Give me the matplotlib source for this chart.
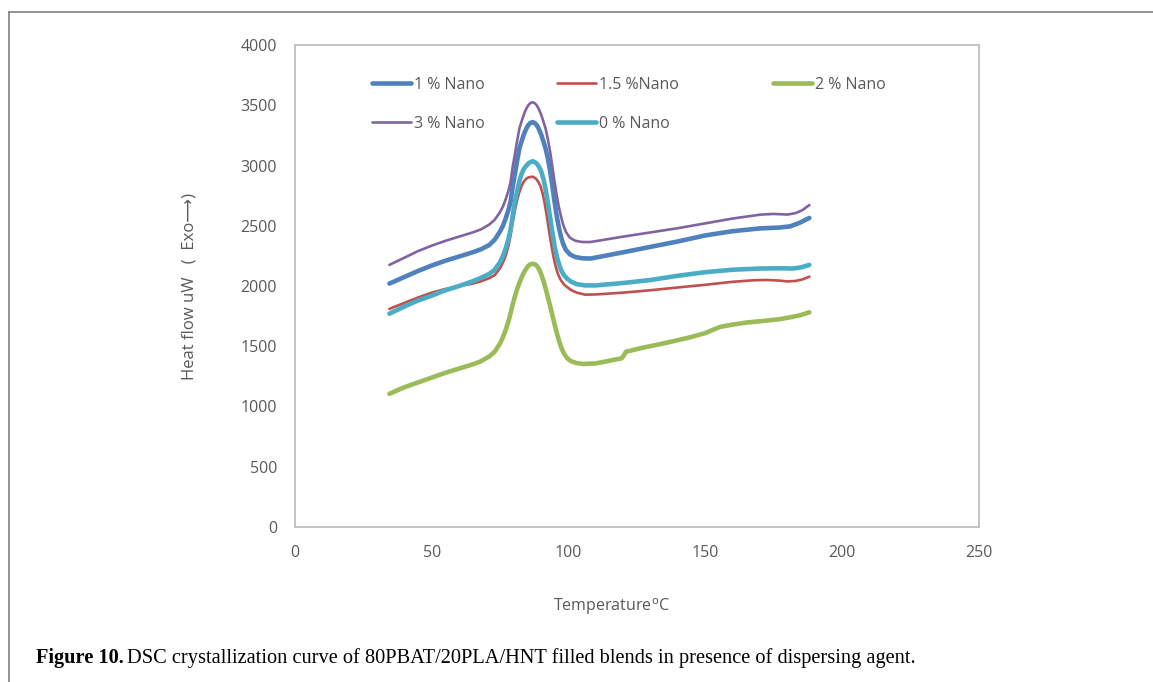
import matplotlib
matplotlib.use("Agg")
import matplotlib.pyplot as plt
from matplotlib.lines import Line2D
from matplotlib.legend import Legend

# ---- DSC crystallization data (temperature in °C, heat flow in uW) ----
t_1pct = [34.5, 40, 45, 50, 55, 60, 65, 68, 71, 73, 75, 76, 77, 78, 78.8, 79.6, 80.4,
          81.2, 82.0, 82.8, 83.6, 84.4, 85.2, 86.0, 86.8, 87.6, 88.4, 89.2, 90.0, 90.8,
          91.6, 92.4, 93.2, 94.0, 94.8, 95.6, 96.4, 97.2, 98.0, 99.0, 100.5, 102.5, 105,
          108, 112, 120, 130, 140, 150, 160, 170, 177, 181, 184.5, 188]
hf_1pct = [2020, 2075, 2125, 2170, 2210, 2245, 2280, 2305, 2340, 2385, 2455, 2500, 2560,
           2630, 2700, 2830, 2930, 3040, 3140, 3200, 3255, 3300, 3333, 3353, 3360, 3353,
           3333, 3300, 3255, 3200, 3140, 3060, 2960, 2840, 2710, 2590, 2490, 2410, 2350,
           2300, 2262, 2240, 2230, 2228, 2245, 2280, 2325, 2370, 2420, 2455, 2478, 2485,
           2495, 2525, 2565]

t_15pct = [34.5, 40, 45, 50, 55, 60, 65, 67.6, 71, 73, 75, 76, 77, 78, 78.8, 79.6, 80.4,
           81.2, 82.0, 82.8, 83.6, 84.4, 85.2, 86.5, 87.3, 88.1, 88.9, 89.7, 90.5, 91.3,
           92.1, 92.9, 93.7, 94.5, 95.3, 96.1, 97.0, 98.2, 99.5, 101, 103, 106, 110, 120,
           130, 140, 150, 160, 168, 172.7, 177, 180, 183, 185.5, 188]
hf_15pct = [1810, 1860, 1905, 1945, 1975, 2000, 2020, 2036, 2065, 2090, 2150, 2195, 2250,
            2330, 2420, 2530, 2630, 2715, 2780, 2830, 2865, 2888, 2900, 2907, 2903, 2890,
            2865, 2830, 2770, 2680, 2570, 2450, 2340, 2240, 2160, 2100, 2055, 2015, 1990,
            1965, 1945, 1928, 1930, 1945, 1965, 1988, 2010, 2035, 2048, 2050, 2045, 2038,
            2042, 2055, 2077]

t_2pct = [34.5, 40, 45, 50, 55, 60, 65, 67.6, 71, 73, 75, 76, 77, 78, 78.8, 79.6, 80.4,
          81.2, 82.0, 82.8, 83.6, 84.4, 85.2, 86.0, 86.9, 87.7, 88.5, 89.3, 90.1, 90.9,
          91.7, 92.5, 93.3, 94.1, 94.9, 95.7, 96.5, 97.3, 98.3, 99.5, 101, 103, 105.4,
          110, 115, 119.4, 120.2, 121, 123, 126.1, 135, 144.4, 150, 155.3, 160, 165.1,
          172, 177.3, 182.1, 185, 188]
hf_2pct = [1105, 1160, 1200, 1240, 1280, 1315, 1350, 1372, 1415, 1455, 1525, 1575, 1635,
           1705, 1775, 1850, 1915, 1975, 2025, 2070, 2110, 2140, 2165, 2180, 2185, 2180,
           2165, 2135, 2090, 2035, 1970, 1900, 1830, 1755, 1680, 1610, 1545, 1490, 1440,
           1400, 1375, 1360, 1353, 1358, 1380, 1400, 1425, 1455, 1465, 1483, 1525, 1574,
           1610, 1660, 1680, 1697, 1712, 1725, 1745, 1760, 1782]

t_3pct = [34.5, 40, 45, 50, 55, 60, 65, 68, 71, 73, 75, 76, 77, 78, 78.8, 79.6, 80.4,
          81.2, 82.0, 82.8, 83.6, 84.4, 85.2, 86.0, 86.8, 87.6, 88.4, 89.2, 90.0, 90.8,
          91.6, 92.4, 93.2, 94.0, 94.8, 95.6, 96.4, 97.2, 98.0, 99.0, 100.5, 102.5, 105,
          108, 112, 120, 130, 140, 150, 160, 170, 175, 180, 183, 185.5, 188]
hf_3pct = [2175, 2235, 2290, 2335, 2375, 2410, 2445, 2470, 2510, 2550, 2615, 2660, 2720,
           2790, 2865, 2995, 3095, 3205, 3305, 3365, 3420, 3465, 3498, 3518, 3525, 3518,
           3498, 3465, 3420, 3365, 3305, 3220, 3120, 3000, 2875, 2760, 2660, 2580, 2510,
           2450, 2400, 2375, 2365, 2365, 2380, 2410, 2445, 2480, 2520, 2560, 2592, 2598,
           2593, 2605, 2630, 2672]

t_0pct = [34.5, 40, 45, 50, 55, 60, 65, 67.6, 71, 73, 75, 76, 77, 78, 78.8, 79.6, 80.4,
          81.2, 82.0, 82.8, 83.6, 84.4, 85.2, 86.0, 86.9, 87.7, 88.5, 89.3, 90.1, 90.9,
          91.7, 92.5, 93.3, 94.1, 94.9, 95.7, 96.5, 97.3, 98.3, 99.5, 101, 103, 106, 110,
          120, 130, 140, 150, 160, 170, 177, 182, 185, 188]
hf_0pct = [1770, 1830, 1880, 1920, 1965, 2000, 2040, 2064, 2100, 2135, 2200, 2250, 2310,
           2390, 2470, 2590, 2700, 2790, 2870, 2930, 2970, 2995, 3015, 3028, 3035, 3028,
           3012, 2985, 2945, 2880, 2790, 2680, 2560, 2440, 2330, 2245, 2180, 2130, 2090,
           2060, 2035, 2015, 2005, 2005, 2025, 2050, 2085, 2115, 2135, 2145, 2147, 2145,
           2155, 2175]

labels = ["1 % Nano", "1.5 %Nano", "2 % Nano", "3 % Nano", "0 % Nano"]
colors = ["#4F81BD", "#C0504D", "#9BBB59", "#8064A2", "#4BACC6"]
widths = [3.3, 1.9, 3.3, 1.9, 3.3]

x_ticks = [0, 50, 100, 150, 200, 250]
y_ticks = [0, 500, 1000, 1500, 2000, 2500, 3000, 3500, 4000]

FONT = ["Open Sans", "DejaVu Sans"]
TXT = "#595959"

fig = plt.figure(figsize=(11.53, 6.82), dpi=100)
ax = fig.add_axes([295 / 1153, 1 - 527 / 682, 684 / 1153, 482 / 682])

series = [(t_1pct, hf_1pct), (t_15pct, hf_15pct), (t_2pct, hf_2pct),
          (t_3pct, hf_3pct), (t_0pct, hf_0pct)]
handles = []
for (t, hf), lab, c, w in zip(series, labels, colors, widths):
    ln, = ax.plot(t, hf, color=c, lw=w, label=lab,
                  solid_capstyle="round", solid_joinstyle="round")
    handles.append(ln)

ax.set_xlim(0, 250)
ax.set_ylim(0, 4000)
ax.set_xticks(x_ticks)
ax.set_yticks(y_ticks)
ax.tick_params(length=0, labelsize=11.5, labelcolor=TXT, pad=13)
for lbl in ax.get_xticklabels() + ax.get_yticklabels():
    lbl.set_fontfamily(FONT)
for s in ax.spines.values():
    s.set_color("#BFBFBF")
    s.set_linewidth(1.3)

ax.set_xlabel("Temperature$^{\\mathrm{o}}$C", fontsize=11.5, color=TXT, family=FONT)
ax.xaxis.set_label_coords(0.463, -0.145)
ax.set_ylabel("Heat flow uW   (  Exo⟶)", fontsize=12, color=TXT, family=FONT)
ax.yaxis.set_label_coords(-0.142, 0.5)

# legend: three columns placed individually
cols = [([handles[0], handles[3]], 372), ([handles[1], handles[4]], 557),
        ([handles[2]], 773)]
for hs, xpx in cols:
    leg = Legend(ax, hs, [h.get_label() for h in hs],
                 loc="upper left",
                 bbox_to_anchor=((xpx - 295) / 684, (527 - 77) / 482),
                 frameon=False, handlelength=2.45,
                 handletextpad=0.2, labelspacing=1.42, borderaxespad=0,
                 borderpad=0, prop={"family": FONT, "size": 11.5})
    for tx in leg.get_texts():
        tx.set_color(TXT)
    ax.add_artist(leg)

# outer frame of the figure panel
fig.add_artist(Line2D([9 / 1153, 9 / 1153], [0, 1 - 12 / 682], color="#7F7F7F",
                      lw=1.2, transform=fig.transFigure))
fig.add_artist(Line2D([9 / 1153, 1], [1 - 12 / 682, 1 - 12 / 682], color="#7F7F7F",
                      lw=1.2, transform=fig.transFigure))

# caption
SERIF = ["Liberation Serif", "DejaVu Serif"]
cap_y = 1 - 663 / 682
t1 = fig.text(36 / 1153, cap_y, "Figure 10.", fontsize=14.7, fontweight="bold",
              family=SERIF, va="baseline", ha="left", color="black")
fig.canvas.draw()
bb = t1.get_window_extent()
fig.text(bb.x1 / 1153 + 3 / 1153, cap_y,
         "DSC crystallization curve of 80PBAT/20PLA/HNT filled blends in presence of dispersing agent.",
         fontsize=14.7, family=SERIF, va="baseline", ha="left", color="black")

fig.savefig("out.png", dpi=100)
